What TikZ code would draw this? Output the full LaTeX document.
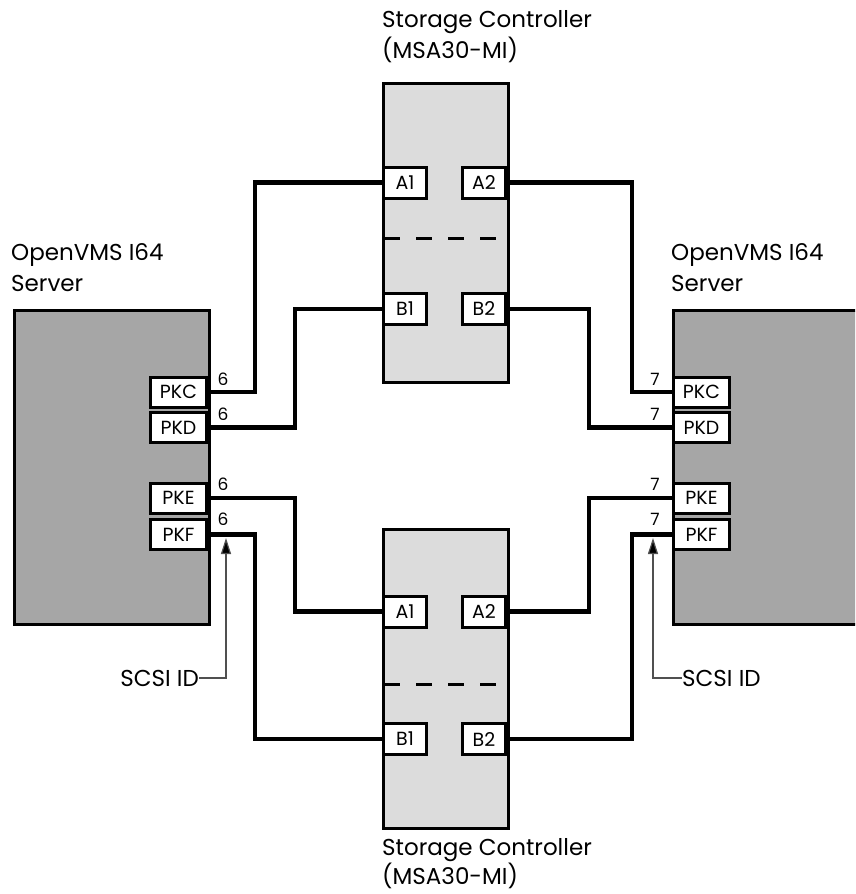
\documentclass[tikz,border=0pt]{standalone}
\usepackage{fontspec}
\setmainfont{Poppins}
\usetikzlibrary{arrows.meta}
\definecolor{srvgray}{HTML}{A6A6A6}
\definecolor{ctrlgray}{HTML}{DCDCDC}
\definecolor{leadgray}{HTML}{505050}
\begin{document}
\begin{tikzpicture}[x=1pt,y=-1pt,
  lbl/.style={font=\fontsize{23}{31}\selectfont, inner sep=0pt, align=left},
  num/.style={font=\fontsize{17}{20}\selectfont, inner sep=0pt},
  srv/.style={draw, line width=3pt, fill=srvgray, inner sep=0pt},
  ctrl/.style={draw, line width=3pt, fill=ctrlgray, inner sep=0pt,
    minimum width=125pt, minimum height=299pt, anchor=north west},
  port/.style={draw, line width=3pt, fill=white, inner sep=0pt,
    minimum width=56pt, minimum height=30pt, font=\fontsize{19}{20}\selectfont},
  cport/.style={draw, line width=3pt, fill=white, inner sep=0pt,
    minimum width=43pt, minimum height=31pt, font=\fontsize{19}{20}\selectfont},
  wire/.style={line width=4.8pt, miter limit=10},
  sep/.style={line width=3pt, dash pattern=on 16pt off 16pt},
  leader/.style={line width=1.2pt, draw=leadgray, -{Triangle[length=16pt,width=10pt,fill=black]}}
]
\useasboundingbox (0,0) rectangle (855,894);

% servers
\node[srv, anchor=north west, minimum width=195pt, minimum height=314pt] (lsrv) at (13,309) {};
\begin{scope}
  \clip (0,0) rectangle (855,894);
  \node[srv, anchor=north west, minimum width=220pt, minimum height=314pt] (rsrv) at (672,309) {};
\end{scope}

% server labels
\node[lbl, anchor=north west] (lsrvlbl) at (11,243) {OpenVMS I64\\Server};
\node[lbl, anchor=north west] (rsrvlbl) at (671,243) {OpenVMS I64\\Server};

% controllers
\node[ctrl] (tctrl) at (382,82) {};
\node[ctrl] (bctrl) at (382,528) {};
\node[lbl, anchor=north west] (tlbl) at (382,10) {Storage Controller\\(MSA30-MI)};
\node[lbl, anchor=north west, font=\fontsize{23}{29}\selectfont] (blbl) at (382,838) {Storage Controller\\(MSA30-MI)};

% controller ports
\node[cport, anchor=west] (tA1) at (382,182.5) {A1};
\node[cport, anchor=east] (tA2) at (507,182.5) {A2};
\node[cport, anchor=west] (tB1) at (382,309) {B1};
\node[cport, anchor=east] (tB2) at (507,309) {B2};
\node[cport, anchor=west] (bA1) at (382,611.5) {A1};
\node[cport, anchor=east] (bA2) at (507,611.5) {A2};
\node[cport, anchor=west] (bB1) at (382,739) {B1};
\node[cport, anchor=east] (bB2) at (507,739) {B2};

% dashed separators
\coordinate (tsepL) at (384,238);
\coordinate (tsepR) at (496,238);
\coordinate (bsepL) at (384,684);
\coordinate (bsepR) at (496,684);
\draw[sep] (tsepL) -- (tsepR);
\draw[sep] (bsepL) -- (bsepR);

% server ports
\node[port, anchor=east] (lPKC) at (208,392) {PKC};
\node[port, anchor=east] (lPKD) at (208,427.5) {PKD};
\node[port, anchor=east] (lPKE) at (208,498) {PKE};
\node[port, anchor=east] (lPKF) at (208,534.5) {PKF};
\node[port, anchor=west] (rPKC) at (672,392) {PKC};
\node[port, anchor=west] (rPKD) at (672,427.5) {PKD};
\node[port, anchor=west] (rPKE) at (672,498) {PKE};
\node[port, anchor=west] (rPKF) at (672,534.5) {PKF};

% wires
\draw[wire] (lPKC.east) -- ++(47,0) |- (tA1.west);
\draw[wire] (lPKD.east) -- ++(87,0) |- (tB1.west);
\draw[wire] (lPKE.east) -- ++(87,0) |- (bA1.west);
\draw[wire] (lPKF.east) -- ++(47,0) |- (bB1.west);
\draw[wire] (rPKC.west) -- ++(-40,0) |- (tA2.east);
\draw[wire] (rPKD.west) -- ++(-83,0) |- (tB2.east);
\draw[wire] (rPKE.west) -- ++(-83,0) |- (bA2.east);
\draw[wire] (rPKF.west) -- ++(-40,0) |- (bB2.east);

% SCSI IDs
\node[num] (l6a) at (223,379) {6};
\node[num] (l6b) at (223,414) {6};
\node[num] (l6c) at (223,484) {6};
\node[num] (l6d) at (223,519) {6};
\node[num] (r7a) at (655,379) {7};
\node[num] (r7b) at (655,414) {7};
\node[num] (r7c) at (655,484) {7};
\node[num] (r7d) at (655,519) {7};

% SCSI ID leaders
\node[lbl, anchor=east] (scsiL) at (199,678) {SCSI ID};
\node[lbl, anchor=west] (scsiR) at (682,678) {SCSI ID};
\coordinate (tipL) at (226,538);
\coordinate (tipR) at (653,538);
\draw[leader] (scsiL.east) -| (tipL);
\draw[leader] (scsiR.west) -| (tipR);
\end{tikzpicture}
\end{document}
